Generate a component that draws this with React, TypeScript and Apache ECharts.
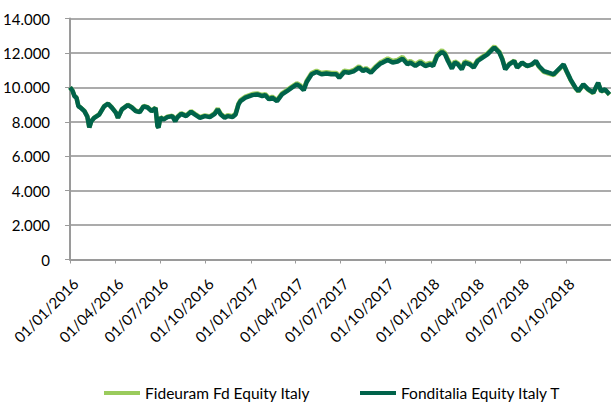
import { useEffect, useRef } from 'react';
import * as echarts from 'echarts';

const dates = [
  '2016-01-01','2016-01-06','2016-01-10','2016-01-14','2016-01-18','2016-01-22','2016-01-30','2016-02-05','2016-02-09','2016-02-13',
  '2016-02-19','2016-02-29','2016-03-10','2016-03-18','2016-03-26','2016-04-03','2016-04-07','2016-04-15','2016-04-27','2016-05-05',
  '2016-05-13','2016-05-21','2016-05-29','2016-06-06','2016-06-14','2016-06-22','2016-06-26','2016-06-28','2016-07-02','2016-07-08',
  '2016-07-16','2016-07-26','2016-08-01','2016-08-05','2016-08-13','2016-08-23','2016-09-02','2016-09-10','2016-09-20','2016-09-30',
  '2016-10-10','2016-10-20','2016-10-26','2016-11-01','2016-11-09','2016-11-15','2016-11-25','2016-12-01','2016-12-07','2016-12-11',
  '2016-12-21','2017-01-04','2017-01-14','2017-01-24','2017-01-30','2017-02-07','2017-02-13','2017-02-23','2017-03-05','2017-03-15',
  '2017-03-25','2017-04-04','2017-04-10','2017-04-18','2017-04-24','2017-05-04','2017-05-14','2017-05-24','2017-06-03','2017-06-13',
  '2017-06-23','2017-06-29','2017-07-09','2017-07-19','2017-07-29','2017-08-08','2017-08-16','2017-08-22','2017-09-01','2017-09-11',
  '2017-09-21','2017-09-25','2017-10-05','2017-10-15','2017-10-25','2017-11-04','2017-11-14','2017-11-20','2017-11-30','2017-12-10',
  '2017-12-20','2017-12-30','2018-01-05','2018-01-13','2018-01-23','2018-01-29','2018-02-04','2018-02-12','2018-02-18','2018-02-24',
  '2018-03-04','2018-03-10','2018-03-20','2018-03-28','2018-04-05','2018-04-15','2018-04-25','2018-05-05','2018-05-09','2018-05-19',
  '2018-05-25','2018-05-31','2018-06-08','2018-06-18','2018-06-24','2018-07-04','2018-07-14','2018-07-24','2018-08-01','2018-08-07',
  '2018-08-17','2018-08-27','2018-09-06','2018-09-16','2018-09-26','2018-10-02','2018-10-10','2018-10-20','2018-10-26','2018-11-05',
  '2018-11-15','2018-11-25','2018-12-05','2018-12-11','2018-12-19','2018-12-28',
];

const fonditalia = [
  10000, 9800, 9490, 9400, 8900, 8830, 8620, 8300, 7670, 8030,
  8230, 8420, 8900, 9050, 8810, 8520, 8230, 8720, 8970, 8830,
  8620, 8560, 8900, 8830, 8620, 8800, 7740, 7660, 8250, 8130,
  8270, 8330, 8030, 8250, 8460, 8330, 8580, 8420, 8230, 8330,
  8270, 8460, 8720, 8420, 8230, 8330, 8270, 8420, 9010, 9200,
  9400, 9550, 9590, 9490, 9550, 9300, 9400, 9200, 9590, 9780,
  9980, 10170, 10070, 9840, 10310, 10760, 10890, 10760, 10810, 10760,
  10760, 10560, 10890, 10850, 10950, 11150, 10950, 11050, 10850, 11150,
  11400, 11440, 11590, 11440, 11500, 11670, 11340, 11440, 11240, 11440,
  11240, 11340, 11240, 11820, 12060, 11920, 11530, 11090, 11440, 11340,
  11050, 11440, 11340, 11150, 11530, 11730, 11920, 12210, 12310, 12020,
  11630, 11050, 11340, 11530, 11150, 11440, 11240, 11340, 11530, 11240,
  10950, 10850, 10760, 11050, 11340, 10950, 10470, 9980, 9780, 10170,
  9880, 9690, 10270, 9780, 9880, 9590,
];

const fideuram = [
  10000, 9810, 9500, 9410, 8910, 8840, 8630, 8310, 7680, 8040,
  8240, 8430, 8910, 9060, 8820, 8530, 8240, 8730, 8990, 8850,
  8640, 8580, 8920, 8850, 8640, 8820, 7760, 7680, 8270, 8150,
  8290, 8360, 8060, 8280, 8500, 8370, 8620, 8460, 8270, 8370,
  8310, 8510, 8770, 8470, 8280, 8380, 8320, 8470, 9060, 9260,
  9460, 9610, 9650, 9550, 9610, 9360, 9460, 9260, 9650, 9840,
  10040, 10240, 10140, 9910, 10380, 10830, 10960, 10830, 10880, 10830,
  10830, 10630, 10960, 10920, 11020, 11220, 11020, 11120, 10920, 11220,
  11470, 11520, 11680, 11530, 11590, 11760, 11430, 11530, 11330, 11530,
  11330, 11420, 11320, 11910, 12150, 12000, 11610, 11160, 11510, 11410,
  11120, 11510, 11410, 11210, 11590, 11790, 11980, 12270, 12370, 12070,
  11670, 11080, 11360, 11550, 11160, 11440, 11230, 11320, 11500, 11200,
  10900, 10800, 10720, 11020, 11310, 10920, 10440, 9960, 9760, 10140,
  9860, 9670, 10240, 9760, 9860, 9570,
];

const quarterTicks = [
  '2016-01-01','2016-04-01','2016-07-01','2016-10-01',
  '2017-01-01','2017-04-01','2017-07-01','2017-10-01',
  '2018-01-01','2018-04-01','2018-07-01','2018-10-01',
];

const axisStart = '2016-01-01';
const axisEnd = '2018-12-31';

const seriesNames = ['Fideuram Fd Equity Italy', 'Fonditalia Equity Italy T'];
const seriesColors = ['#9ACB5C', '#00634A'];

const DAY = 86400000;
const toUTC = (s: string) => {
  const [y, m, d] = s.split('-').map(Number);
  return Date.UTC(y, m - 1, d);
};
const base = toUTC(axisStart);
const dayIdx = (s: string) => Math.round((toUTC(s) - base) / DAY);

const pad = (n: number) => (n < 10 ? '0' + n : '' + n);
const fmtDay = (v: number) => {
  const d = new Date(base + Math.round(v) * DAY);
  return pad(d.getUTCDate()) + '/' + pad(d.getUTCMonth() + 1) + '/' + d.getUTCFullYear();
};
const fmtNum = (v: number) => {
  if (v === 0) return '0';
  const s = String(Math.round(v));
  return s.replace(/\B(?=(\d{3})+(?!\d))/g, '.');
};

export default function App() {
  const ref = useRef<HTMLDivElement>(null);
  useEffect(() => {
    if (!ref.current) return;
    const chart = echarts.init(ref.current, null, { renderer: 'svg' });
    const font = 'Lato';
    const tickDays = quarterTicks.map(dayIdx);
    const legendCommon = {
      top: 380,
      itemWidth: 36,
      itemHeight: 4,
      icon: 'rect',
      textStyle: { fontFamily: font, fontSize: 15.5, color: '#000000' },
    };
    chart.setOption({
      animation: false,
      backgroundColor: '#ffffff',
      textStyle: { fontFamily: font },
      grid: { left: 65, right: -4, top: 18.5, bottom: 142.5, containLabel: false },
      legend: [
        { ...legendCommon, left: 99, data: [seriesNames[0]] },
        { ...legendCommon, left: 355, data: [seriesNames[1]] },
      ],
      xAxis: {
        type: 'value',
        min: 0,
        max: dayIdx(axisEnd),
        axisLine: { lineStyle: { color: '#9A9A9A', width: 2 } },
        axisTick: { show: true, length: 4, lineStyle: { color: '#9A9A9A', width: 1 }, customValues: tickDays },
        axisLabel: {
          customValues: tickDays,
          rotate: 45,
          fontSize: 15,
          color: '#000000',
          fontFamily: font,
          margin: 16,
          align: 'right',
          verticalAlign: 'top',
          formatter: (v: number) => fmtDay(v),
        },
        splitLine: { show: false },
      },
      yAxis: {
        type: 'value',
        min: 0,
        max: 14000,
        interval: 2000,
        axisLine: { show: true, lineStyle: { color: '#9A9A9A', width: 2 } },
        axisTick: { show: true, length: 5, lineStyle: { color: '#9A9A9A', width: 1 } },
        axisLabel: { fontSize: 15, color: '#000000', fontFamily: font, margin: 20, formatter: (v: number) => fmtNum(v) },
        splitLine: { show: true, lineStyle: { color: '#ABABAB', width: 2 } },
      },
      series: [
        {
          name: seriesNames[0],
          type: 'line',
          showSymbol: false,
          data: dates.map((d, i) => [dayIdx(d), fideuram[i]]),
          lineStyle: { color: seriesColors[0], width: 4.5 },
          itemStyle: { color: seriesColors[0] },
          z: 2,
        },
        {
          name: seriesNames[1],
          type: 'line',
          showSymbol: false,
          data: dates.map((d, i) => [dayIdx(d), fonditalia[i]]),
          lineStyle: { color: seriesColors[1], width: 4.5 },
          itemStyle: { color: seriesColors[1] },
          z: 3,
        },
      ],
    });
    return () => chart.dispose();
  }, []);
  return (
    <div
      ref={ref}
      style={{ position: 'absolute', left: 0, top: 0, width: 611, height: 402, background: '#fff' }}
    />
  );
}
